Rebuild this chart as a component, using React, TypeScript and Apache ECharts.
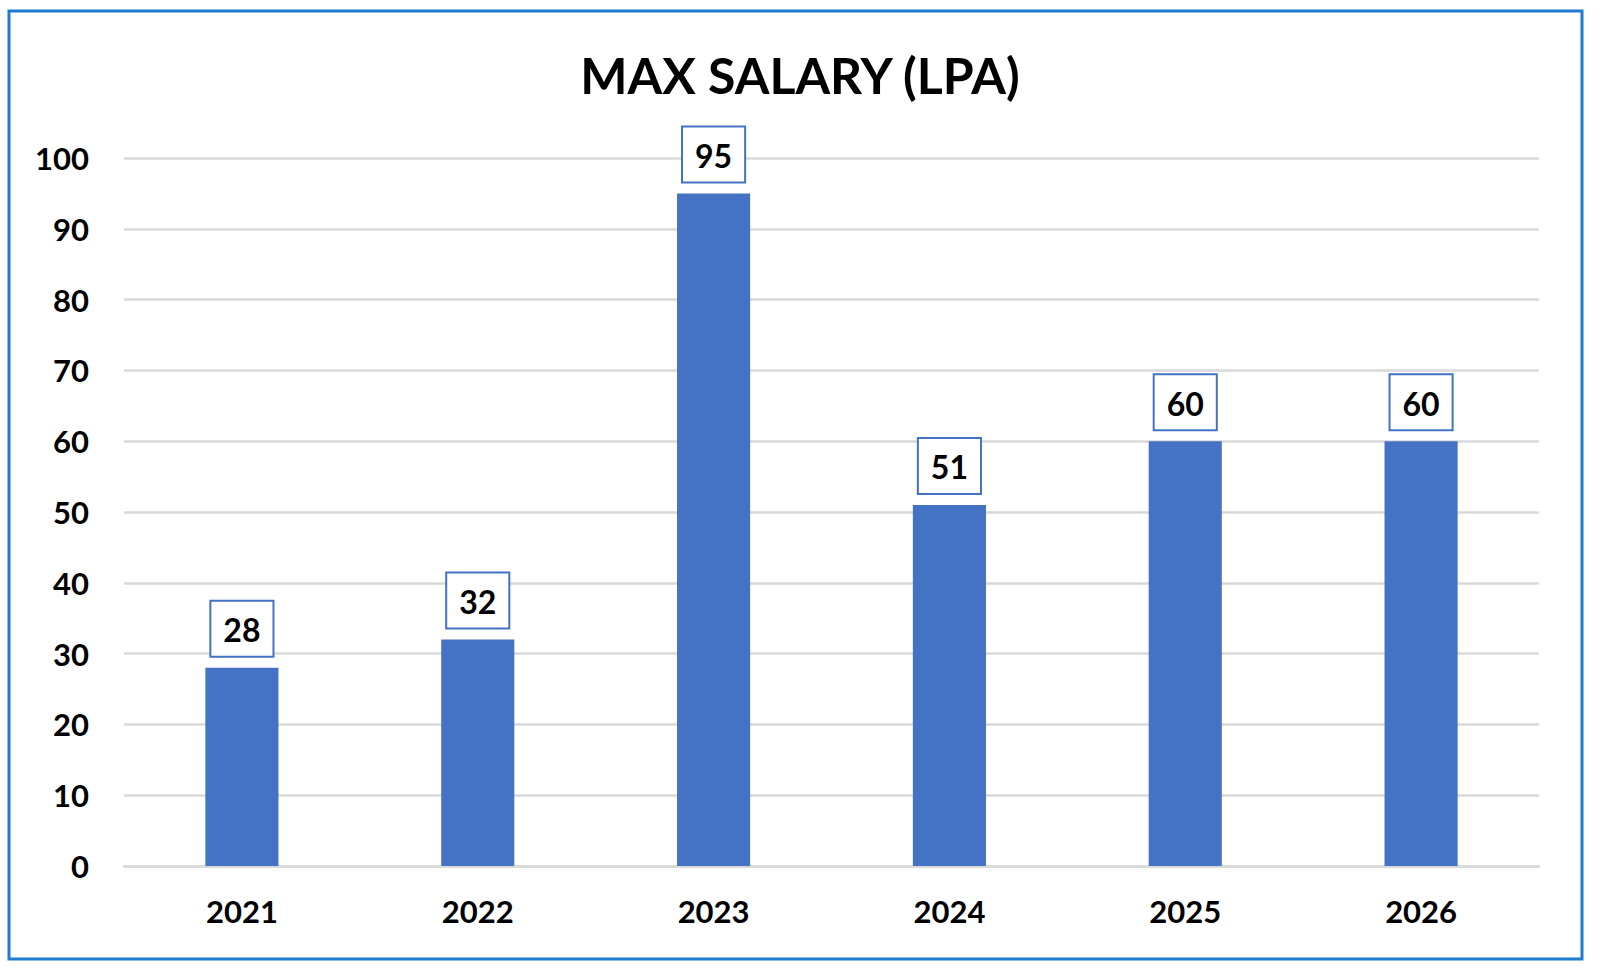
import React, { useEffect, useRef } from "react";
import * as echarts from "echarts";

const categories = ["2021", "2022", "2023", "2024", "2025", "2026"];
const maxSalary = [28, 32, 95, 51, 60, 60];
const titleText = "MAX SALARY (LPA)";

const FONT = "Lato, 'Open Sans', sans-serif";

export default function App() {
  const ref = useRef<HTMLDivElement>(null);
  useEffect(() => {
    if (!ref.current) return;
    const chart = echarts.init(ref.current, undefined, { renderer: "svg" });
    chart.setOption({
      animation: false,
      backgroundColor: "#ffffff",
      title: {
        text: titleText,
        left: "center",
        top: 45,
        textStyle: { fontFamily: FONT, fontWeight: "bold", fontSize: 50, color: "#000" },
      },
      graphic: [
        {
          type: "rect",
          shape: { x: 9, y: 11, width: 1573, height: 948 },
          style: { fill: "none", stroke: "#1F7BD0", lineWidth: 3 },
          z: 100,
        },
      ],
      grid: { left: 124, right: 61, top: 158, bottom: 105, containLabel: false },
      xAxis: {
        type: "category",
        data: categories,
        axisLine: { show: true, lineStyle: { color: "#D9D9D9", width: 2.5 } },
        axisTick: { show: false },
        axisLabel: { fontFamily: FONT, fontWeight: "bold", fontSize: 31, color: "#000", margin: 29 },
      },
      yAxis: {
        type: "value",
        min: 0,
        max: 100,
        interval: 10,
        axisLine: { show: false },
        axisTick: { show: false },
        splitLine: { lineStyle: { color: "#D9D9D9", width: 2.5 } },
        axisLabel: { fontFamily: FONT, fontWeight: "bold", fontSize: 31, color: "#000", margin: 35 },
      },
      series: [
        {
          type: "bar",
          data: maxSalary,
          barWidth: "31%",
          itemStyle: { color: "#4472C4" },
          label: {
            show: true,
            position: "top",
            distance: 12,
            fontFamily: FONT,
            fontWeight: "bold",
            fontSize: 32,
            color: "#000",
            backgroundColor: "#ffffff",
            borderColor: "#4472C4",
            borderWidth: 2,
            padding: [12, 12, 10, 12],
          },
        },
      ],
    });
    return () => chart.dispose();
  }, []);
  return (
    <div
      ref={ref}
      style={{ position: "fixed", left: 0, top: 0, width: 1600, height: 971 }}
    />
  );
}
